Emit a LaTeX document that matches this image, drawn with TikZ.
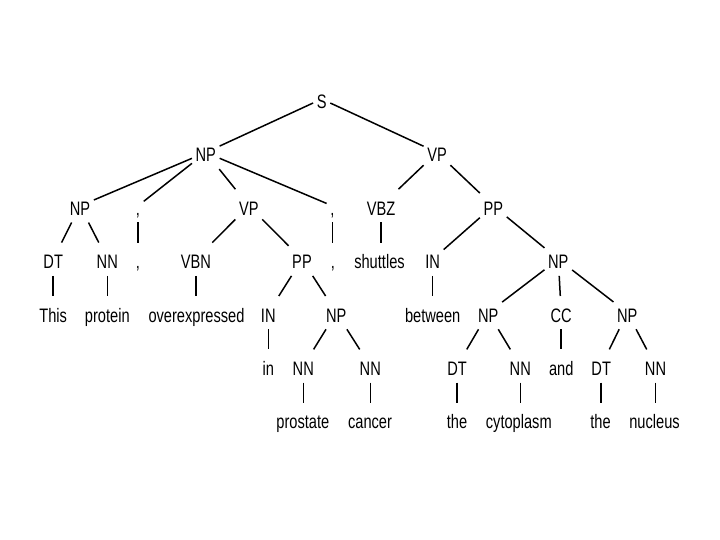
\documentclass[tikz,border=0pt]{standalone}
\usepackage{fontspec}
\setmainfont[FakeStretch=0.75]{Liberation Sans}
\begin{document}
\begin{tikzpicture}[x=1pt,y=-1pt,
  lbl/.style={anchor=base,inner xsep=3.5pt,inner ysep=7pt,text height=18.9pt,text depth=0pt,
    font=\fontsize{19.5}{22}\selectfont,text=black},
  edge/.style={line width=1.5pt,black}]
\useasboundingbox (0,0) rectangle (720,540);
% row 0
\node[lbl] (S) at (321.7,108.5) {S};
% row 1
\node[lbl] (np1) at (205.8,161.9) {NP};
\node[lbl] (vp1) at (437,161.9) {VP};
% row 2
\node[lbl] (np2a) at (80,215.3) {NP};
\node[lbl] (c2a) at (138,215.3) {,};
\node[lbl] (vp2) at (248.8,215.3) {VP};
\node[lbl] (c2b) at (332.3,215.3) {,};
\node[lbl] (vbz) at (381,215.3) {VBZ};
\node[lbl] (pp2) at (493.3,215.3) {PP};
% row 3
\node[lbl] (dt3a) at (53.2,268.7) {DT};
\node[lbl] (nn3a) at (107.3,268.7) {NN};
\node[lbl] (c3a) at (137.8,268.7) {,};
\node[lbl] (vbn) at (195.8,268.7) {VBN};
\node[lbl] (pp3) at (302,268.7) {PP};
\node[lbl] (c3b) at (332.8,268.7) {,};
\node[lbl] (shuttles) at (379.5,268.7) {shuttles};
\node[lbl] (in3) at (432.7,268.7) {IN};
\node[lbl] (np3) at (558.3,268.7) {NP};
% row 4
\node[lbl] (this) at (53.2,322.1) {This};
\node[lbl] (protein) at (107.3,322.1) {protein};
\node[lbl] (overexp) at (196.5,322.1) {overexpressed};
\node[lbl] (in4) at (268.3,322.1) {IN};
\node[lbl] (np4) at (336.3,322.1) {NP};
\node[lbl] (between) at (432.7,322.1) {between};
\node[lbl] (np4b) at (488.3,322.1) {NP};
\node[lbl] (cc) at (561.2,322.1) {CC};
\node[lbl] (np4c) at (627.3,322.1) {NP};
% row 5
\node[lbl] (in5) at (268.3,375.5) {in};
\node[lbl] (nn5a) at (303.3,375.5) {NN};
\node[lbl] (nn5b) at (370.3,375.5) {NN};
\node[lbl] (dt5a) at (457,375.5) {DT};
\node[lbl] (nn5c) at (520.3,375.5) {NN};
\node[lbl] (and) at (561.3,375.5) {and};
\node[lbl] (dt5b) at (601.2,375.5) {DT};
\node[lbl] (nn5d) at (655.5,375.5) {NN};
% row 6
\node[lbl] (prostate) at (302.8,428.9) {prostate};
\node[lbl] (cancer) at (370,428.9) {cancer};
\node[lbl] (the1) at (457,428.9) {the};
\node[lbl] (cyto) at (518.8,428.9) {cytoplasm};
\node[lbl] (the2) at (600.5,428.9) {the};
\node[lbl] (nucleus) at (654.5,428.9) {nucleus};
% diagonal edges
\foreach \a/\b in {S/np1,S/vp1,np1/np2a,np1/c2a,np1/vp2,np1/c2b,vp1/vbz,vp1/pp2,
  np2a/dt3a,np2a/nn3a,vp2/vbn,vp2/pp3,pp2/in3,pp2/np3,pp3/in4,pp3/np4,
  np3/np4b,np3/cc,np3/np4c,np4/nn5a,np4/nn5b,np4b/dt5a,np4b/nn5c,np4c/dt5b,np4c/nn5d}
  \draw[edge] (\a) -- (\b);
% vertical edges
\foreach \a/\b in {c2a/c3a,c2b/c3b,vbz/shuttles,dt3a/this,nn3a/protein,vbn/overexp,
  in3/between,in4/in5,cc/and,nn5a/prostate,nn5b/cancer,dt5a/the1,nn5c/cyto,dt5b/the2,nn5d/nucleus}
  \draw[edge] (\a.south) -- (\a.south |- \b.north);
\end{tikzpicture}
\end{document}
